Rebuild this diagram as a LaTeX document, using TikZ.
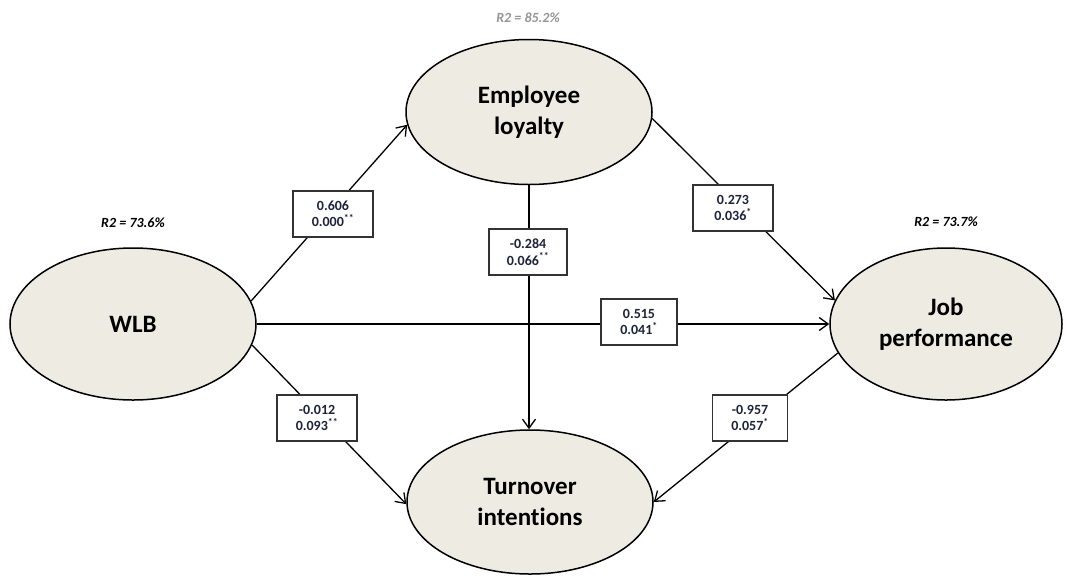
\documentclass[tikz,border=0pt]{standalone}
\usepackage{fontspec}
\setmainfont[Ligatures={NoCommon}]{Carlito}
\usetikzlibrary{shapes.geometric,arrows.meta}
\definecolor{fillc}{RGB}{238,236,226}
\definecolor{numc}{RGB}{30,35,60}
\definecolor{grayc}{RGB}{150,150,150}
\begin{document}
\begin{tikzpicture}[x=1pt,y=-1pt,
 latent/.style={ellipse,draw=black,line width=1.5pt,fill=fillc,inner sep=0pt,align=center,font=\fontsize{25}{31}\selectfont\bfseries},
 coef/.style={draw=black!80,line width=1.2pt,fill=white,minimum width=80pt,minimum height=46pt,inner sep=0pt,align=center,font=\fontsize{14}{16.5}\selectfont\bfseries,text=numc},
 pathar/.style={line width=1.3pt,-{Straight Barb[length=9pt,width=13pt,line width=1.3pt]}},
 rsq/.style={font=\fontsize{14}{16}\selectfont\bfseries\itshape}]
\useasboundingbox[fill=white] (0,0) rectangle (1067,576);
\node[latent,minimum width=246pt,minimum height=152pt] (wlb) at (133,324) {WLB};
\node[latent,minimum width=246pt,minimum height=145pt] (el) at (529,112) {Employee\\loyalty};
\node[latent,minimum width=232pt,minimum height=152pt] (jp) at (946,324) {Job\\performance};
\node[latent,minimum width=246pt,minimum height=144pt] (ti) at (530,502) {Turnover\\intentions};
\node[rsq,text=grayc] (r1) at (528,18) {R2 = 85.2\%};
\node[rsq] (r2) at (133,223) {R2 = 73.6\%};
\node[rsq] (r3) at (946,222) {R2 = 73.7\%};
\draw[pathar] (wlb.11) -- (el.186);
\draw[pathar] (el.357) -- (jp.168);
\draw[pathar] (el.south) -- (el.south |- ti.north);
\draw[pathar] (wlb.east) -- (jp.west);
\draw[pathar] (wlb.350) -- (ti.181);
\draw[pathar] (jp.195) -- (ti.0);
\node[coef] (b1) at (333,214) {0.606\\0.000\textsuperscript{**}};
\node[coef,minimum width=78pt] (b2) at (528,252) {-0.284\\0.066\textsuperscript{**}};
\node[coef] (b3) at (733,208) {0.273\\0.036\textsuperscript{*}};
\node[coef,minimum width=76pt] (b4) at (639,322) {0.515\\0.041\textsuperscript{*}};
\node[coef] (b5) at (317,418) {-0.012\\0.093\textsuperscript{**}};
\node[coef,minimum width=75pt] (b6) at (750,418) {-0.957\\0.057\textsuperscript{*}};
\end{tikzpicture}
\end{document}
